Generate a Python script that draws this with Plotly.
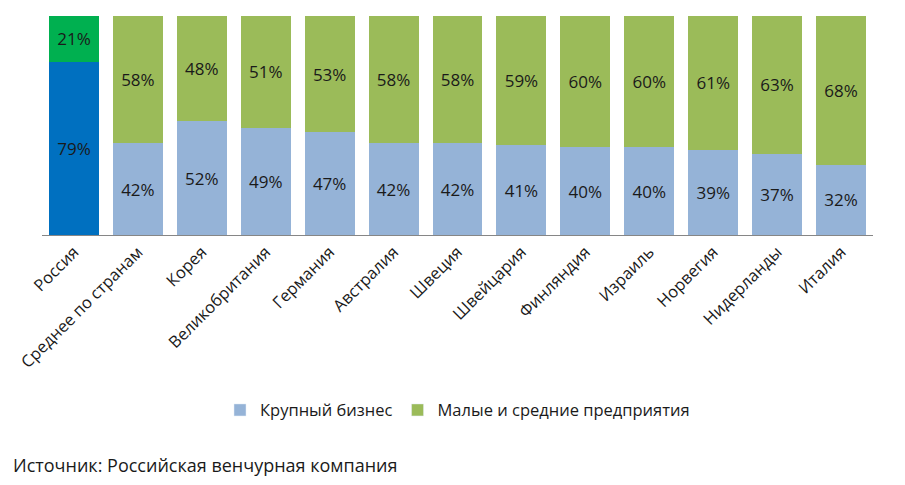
import plotly.graph_objects as go

categories = ["Россия", "Среднее по странам", "Корея", "Великобритания", "Германия",
              "Австралия", "Швеция", "Швейцария", "Финляндия", "Израиль",
              "Норвегия", "Нидерланды", "Италия"]
large_business = [79, 42, 52, 49, 47, 42, 42, 41, 40, 40, 39, 37, 32]
small_medium = [21, 58, 48, 51, 53, 58, 58, 59, 60, 60, 61, 63, 68]
series_names = ["Крупный бизнес", "Малые и средние предприятия"]
source_text = "Источник: Российская венчурная компания"

FONT = "Open Sans"
TXT = "#1a1a1a"
large_colors = ["#0070C0"] + ["#95B3D7"] * (len(categories) - 1)
small_colors = ["#00B050"] + ["#9BBB59"] * (len(categories) - 1)

fig = go.Figure()
for vals, cols, nm in [(large_business, large_colors, series_names[0]),
                       (small_medium, small_colors, series_names[1])]:
    fig.add_trace(go.Bar(
        x=categories, y=vals, name=nm,
        marker=dict(color=cols, line=dict(width=0)),
        text=[f"{v}%" for v in vals], textposition="inside",
        insidetextanchor="middle", textangle=0,
        textfont=dict(family=FONT, size=17, color=TXT),
        showlegend=False,
    ))
# legend entries
fig.add_trace(go.Bar(x=[None], y=[None], name=series_names[0], marker_color="#95B3D7"))
fig.add_trace(go.Bar(x=[None], y=[None], name=series_names[1], marker_color="#9BBB59"))

fig.update_layout(
    barmode="stack",
    bargap=0.22,
    width=897, height=477,
    margin=dict(l=34, r=32, t=8, b=250),
    paper_bgcolor="white", plot_bgcolor="white",
    font=dict(family=FONT, size=16, color=TXT),
    legend=dict(orientation="h", x=0.5, xanchor="center", y=-0.8, yanchor="middle",
                font=dict(family=FONT, size=16.5), traceorder="normal"),
    xaxis=dict(tickangle=-45, showline=True, linecolor="#868686", linewidth=1,
               ticks="", showgrid=False, range=[-0.5, len(categories) - 0.5],
               tickfont=dict(family=FONT, size=16.5)),
    yaxis=dict(range=[0, 100], visible=False, showgrid=False),
    annotations=[dict(text=source_text, xref="paper", yref="paper",
                      x=-0.037, y=-1.05, xanchor="left", yanchor="middle",
                      showarrow=False, font=dict(family=FONT, size=18, color=TXT))],
)
fig.write_html("out.html")
